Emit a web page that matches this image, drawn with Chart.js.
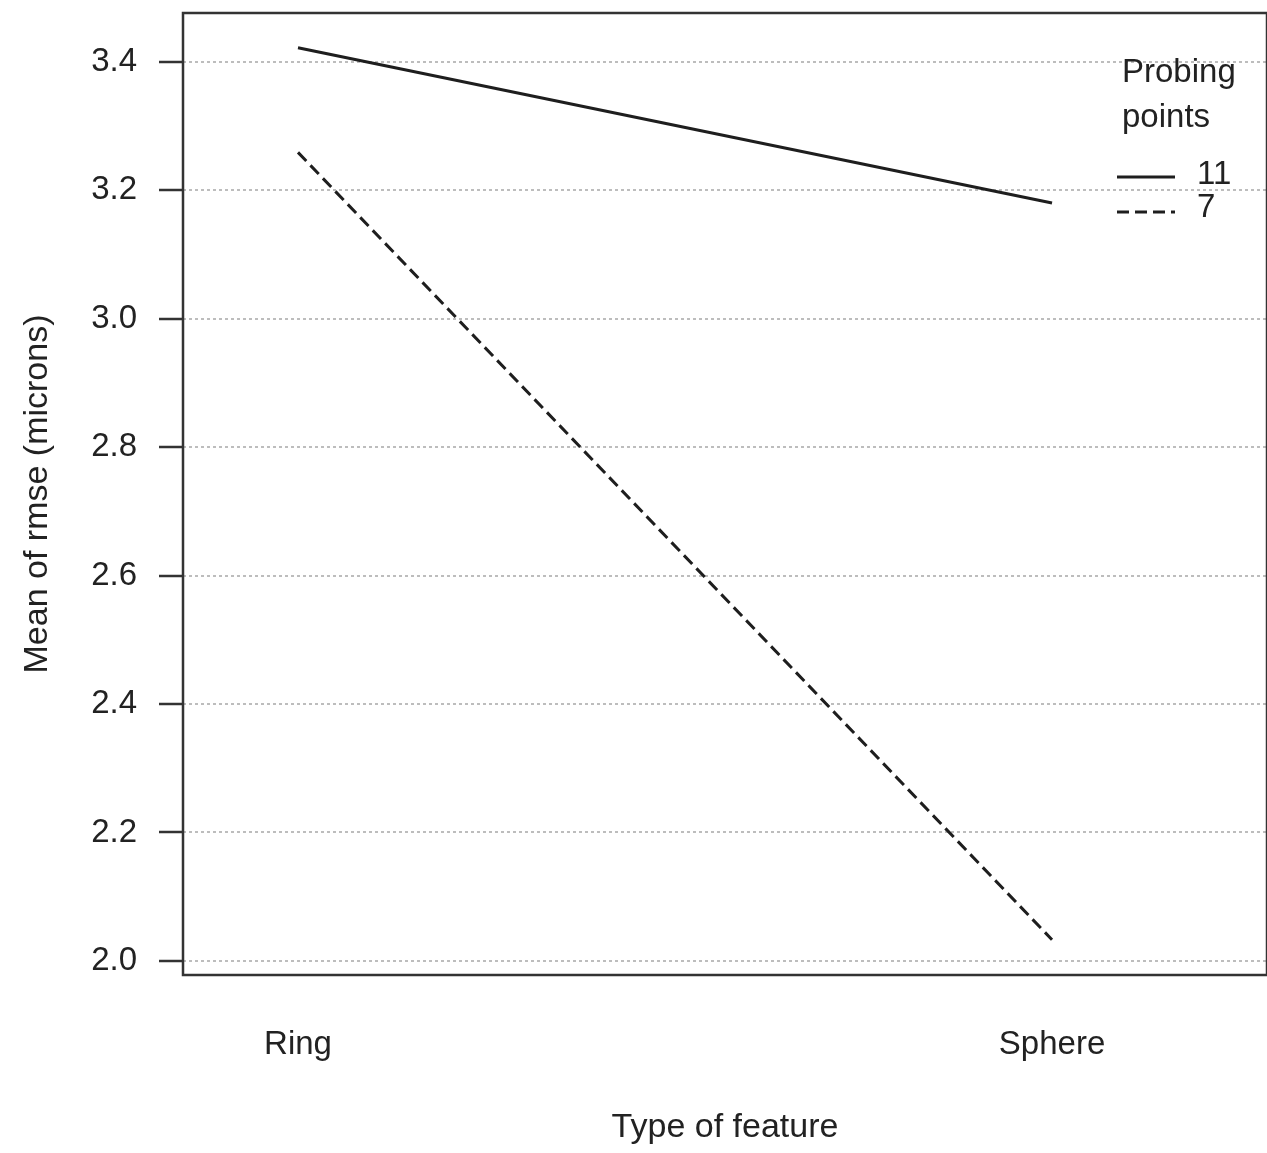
<!DOCTYPE html>
<html><head><meta charset="utf-8">
<script src="https://cdn.jsdelivr.net/npm/chart.js@4.4.1/dist/chart.umd.min.js"></script>
<style>html,body{margin:0;padding:0;background:#fff}#wrap{width:1267px;height:1153px}</style>
</head><body><div id="wrap"><canvas id="c" width="1267" height="1153"></canvas></div>
<script>
const categories = ['Ring', 'Sphere'];
const seriesNames = ['11', '7'];
const series11 = [3.422, 3.180];
const series7 = [3.259, 2.033];
const yTicks = [2.0, 2.2, 2.4, 2.6, 2.8, 3.0, 3.2, 3.4];
const legendTitle = ['Probing', 'points'];
const xTitle = 'Type of feature';
const yTitle = 'Mean of rmse (microns)';

const FONT = '"Liberation Sans", Arial, sans-serif';
const INK = '#222';

const framePlugin = {
  id: 'frame',
  afterDraw(chart) {
    const {ctx, chartArea: a} = chart;
    ctx.save();
    ctx.strokeStyle = '#333';
    ctx.lineWidth = 2.5;
    ctx.setLineDash([]);
    ctx.strokeRect(a.left, a.top, a.right - a.left, a.bottom - a.top);
    ctx.restore();
  }
};

const legendPlugin = {
  id: 'rlegend',
  afterDraw(chart) {
    const {ctx} = chart;
    ctx.save();
    ctx.font = '33px ' + FONT;
    ctx.fillStyle = INK;
    ctx.textAlign = 'left';
    ctx.textBaseline = 'alphabetic';
    ctx.fillText(legendTitle[0], 1122, 82);
    ctx.fillText(legendTitle[1], 1122, 127);
    chart.data.datasets.forEach((ds, i) => {
      const y = 177 + i * 35;
      ctx.beginPath();
      ctx.strokeStyle = ds.borderColor;
      ctx.lineWidth = ds.borderWidth;
      ctx.setLineDash(ds.borderDash || []);
      ctx.moveTo(1117, y);
      ctx.lineTo(1175, y);
      ctx.stroke();
      ctx.setLineDash([]);
      ctx.textBaseline = 'middle';
      ctx.fillText(ds.label, 1197, y - 2 - i * 2);
    });
    ctx.restore();
  }
};

new Chart(document.getElementById('c'), {
  type: 'line',
  data: {
    datasets: [
      {label: seriesNames[0], data: series11.map((v, i) => ({x: i, y: v})), borderColor: '#1e1e1e', borderWidth: 3, borderDash: [], pointRadius: 0, fill: false, tension: 0},
      {label: seriesNames[1], data: series7.map((v, i) => ({x: i, y: v})), borderColor: '#1e1e1e', borderWidth: 3, borderDash: [12, 6], pointRadius: 0, fill: false, tension: 0}
    ]
  },
  options: {
    responsive: false,
    devicePixelRatio: 1,
    animation: false,
    layout: {padding: {top: 13, left: 0, right: 0, bottom: 0}},
    plugins: {legend: {display: false}, tooltip: {enabled: false}},
    scales: {
      x: {
        type: 'linear',
        min: -0.1525,
        max: 1.2851,
        afterBuildTicks: s => { s.ticks = categories.map((c, i) => ({value: i})); },
        afterFit: s => { s.height = 1153 - 975; s.paddingLeft = 0; s.paddingRight = 0; },
        grid: {display: false, drawTicks: false},
        border: {display: false},
        ticks: {
          callback: v => categories[v],
          font: {family: FONT, size: 33},
          color: INK,
          padding: 50,
          maxRotation: 0,
          autoSkip: false
        },
        title: {display: true, text: xTitle, font: {family: FONT, size: 34}, color: INK, padding: {top: 0, bottom: 5}}
      },
      y: {
        type: 'linear',
        min: 1.978,
        max: 3.476,
        afterBuildTicks: s => { s.ticks = yTicks.map(v => ({value: v})); },
        afterFit: s => { s.width = 183; s.paddingTop = 0; s.paddingBottom = 0; },
        grid: {
          color: '#bdbdbd',
          lineWidth: 2,
          drawTicks: true,
          tickLength: 24,
          tickColor: '#333',
          tickWidth: 2.5,
          tickBorderDash: []
        },
        border: {display: false, dash: [3, 3]},
        ticks: {
          callback: v => Number(v).toFixed(1),
          font: {family: FONT, size: 33},
          color: INK,
          padding: 22
        },
        title: {display: true, text: yTitle, font: {family: FONT, size: 34}, color: INK, padding: {top: 17, bottom: 0}}
      }
    }
  },
  plugins: [framePlugin, legendPlugin]
});
</script>
</body></html>
